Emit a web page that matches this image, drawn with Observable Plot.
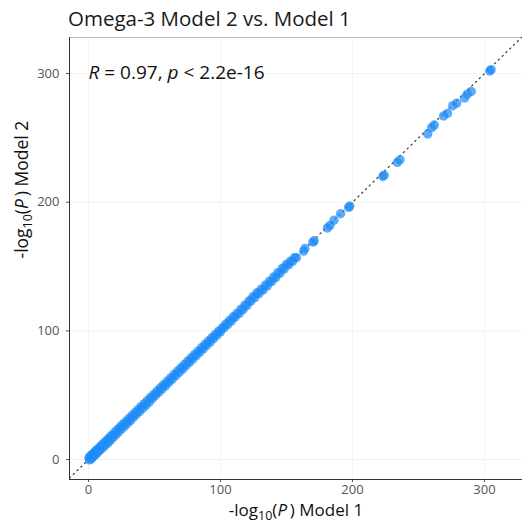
<!DOCTYPE html>
<html>
<head>
<meta charset="utf-8">
<script src="https://cdn.jsdelivr.net/npm/d3@7"></script>
<script src="https://cdn.jsdelivr.net/npm/@observablehq/plot@0.6"></script>
<style>
  html, body { margin: 0; padding: 0; background: white; }
  #title { font-family: "Open Sans", sans-serif; font-size: 20.5px; line-height: 20px;
           height: 30px; box-sizing: border-box; padding-top: 8px; padding-left: 68px; color: #1a1a1a; white-space: nowrap; }
  #chart svg { display: block; }
</style>
</head>
<body>
<div id="title">Omega-3 Model 2 vs. Model 1</div>
<div id="chart"></div>
<script>
// -log10(P) for Model 1 (x) and Model 2 (y)
const model1 = [
  0.3, 0.8, 1.2, 1.9, 2.5, 3.1, 3.8, 4.4, 5.0, 5.7, 6.3, 7.0, 7.8, 8.5, 9.3, 10.1, 11.0, 11.8, 12.7, 13.5,
  14.4, 15.3, 16.2, 17.1, 18.0, 19.0, 20.0, 21.0, 22.1, 23.0, 24.1, 25.2, 26.3, 27.4, 28.5, 29.6, 30.7, 31.8,
  32.9, 34.0, 35.2, 36.3, 37.5, 38.6, 39.8, 41.0, 42.2, 43.4, 44.6, 45.8, 47.0, 48.3, 49.5, 50.8, 52.0, 53.3,
  54.5, 55.8, 57.0, 58.3, 59.6, 60.9, 62.2, 63.5, 64.8, 66.1, 67.4, 68.7, 70.0, 71.3, 72.6, 73.9, 75.2, 76.5,
  77.8, 79.1, 80.4, 81.7, 83.0, 84.3, 85.6, 86.9, 88.2, 89.5, 90.8, 92.1, 93.4, 94.7, 96.0, 97.3, 98.6, 99.9,
  101.2, 102.6, 104.0, 105.4, 106.8, 108.2, 109.6, 111.0, 112.5, 114.0, 115.5, 117.0, 118.5, 120.0, 121.5,
  123.0, 124.5, 126.0, 127.6, 129.1, 130.7, 132.3, 133.9, 135.5, 137.1, 138.7, 140.3, 141.9, 143.5, 145.1,
  146.7, 148.3, 149.9, 151.5, 153.0, 154.5, 156.0, 157.5,
  163, 164, 170, 171, 181, 183, 186, 191, 197, 198, 223, 224, 234, 236, 257, 260, 262, 269, 272, 276, 279,
  285, 287, 290, 304, 305
];
const model2 = [
  1.4, -0.2, 2.6, 0.5, 3.7, 1.8, 4.9, 3.0, 6.3, 4.3, 7.6, 5.6, 9.0, 7.1, 10.5, 8.6, 12.3, 10.3, 13.8, 12.0,
  15.6, 13.6, 17.5, 15.5, 19.2, 17.6, 21.4, 19.5, 23.3, 21.7, 25.5, 23.9, 27.7, 26.0, 29.8, 28.2, 32.0, 30.3,
  34.2, 32.8, 36.5, 35.0, 38.8, 37.3, 41.1, 39.7, 43.5, 42.0, 45.8, 44.4, 48.3, 47.3, 50.7, 49.8, 53.3, 52.3,
  55.8, 54.8, 58.2, 57.3, 60.9, 59.9, 63.5, 62.4, 66.1, 65.1, 68.7, 67.7, 71.3, 70.3, 73.9, 72.9, 76.5, 75.5,
  79.1, 78.2, 81.7, 80.8, 84.3, 83.4, 86.9, 86.0, 89.5, 88.7, 92.1, 91.3, 94.7, 93.9, 97.3, 96.6, 99.8, 99.2,
  102.2, 102.3, 105.3, 104.9, 108.1, 107.6, 111.0, 110.5, 113.7, 113.3, 116.9, 116.4, 120.0, 119.5, 123.2,
  123.0, 126.5, 125.9, 129.6, 129.0, 132.2, 131.8, 135.5, 135.0, 138.7, 138.3, 142.0, 141.4, 145.3, 144.8,
  148.6, 148.2, 151.7, 151.3, 154.2, 154.0, 156.8, 156.9,
  162, 164, 169, 170, 180, 182, 186, 191, 196, 197, 220, 221, 231, 233, 253, 258, 260, 267, 269, 275, 277,
  281, 284, 286, 302, 303
];

const xTicks = [0, 100, 200, 300];
const yTicks = [0, 100, 200, 300];
const xDomain = [-14.4, 328.8];
const yDomain = [-15.5, 328];
const refLine = {intercept: 0, slope: 1};
const corLabel = {x: 0, y: 300, text: "R = 0.97, p < 2.2e-16"};
const xLabel = "-log10(P) Model 1";
const yLabel = "-log10(P) Model 2";

const points = model1.map((x, i) => ({x, y: model2[i]}));
const lineData = xDomain.map(x => ({x, y: refLine.intercept + refLine.slope * x}));

const chart = Plot.plot({
  width: 522,
  height: 495,
  marginTop: 7,
  marginBottom: 46,
  marginLeft: 69,
  marginRight: 0,
  style: {fontFamily: "Open Sans, sans-serif", fontSize: "13px", color: "#555", background: "white", overflow: "visible"},
  x: {domain: xDomain, ticks: xTicks, tickSize: 3, tickPadding: 2, label: null},
  y: {domain: yDomain, ticks: yTicks, tickSize: 3, tickPadding: 7, label: null},
  marks: [
    Plot.ruleX(xTicks, {stroke: "#f3f3f3"}),
    Plot.ruleY(yTicks, {stroke: "#f3f3f3"}),
    Plot.ruleY([yDomain[1]], {stroke: "#bdbdbd"}),
    Plot.line(lineData, {x: "x", y: "y", stroke: "#333", strokeWidth: 1.2, strokeDasharray: "1.3,4", clip: true}),
    Plot.dot(points, {x: "x", y: "y", r: 4.7, fill: "#1E8CF8", fillOpacity: 0.72, stroke: null}),
    Plot.ruleX([xDomain[0]], {stroke: "#333"}),
    Plot.ruleY([yDomain[0]], {stroke: "#333"}),
    Plot.text([corLabel], {x: "x", y: "y", text: "text", textAnchor: "start", fontSize: 19, dy: -1, fill: "#111"}),
    Plot.text([xLabel], {text: d => d, frameAnchor: "bottom", dy: 36.5, fontSize: 17, fill: "#111"}),
    Plot.text([yLabel], {text: d => d, frameAnchor: "left", dx: -47.5, rotate: -90, fontSize: 17.5, fill: "#111"})
  ]
});
document.getElementById("chart").appendChild(chart);

// rich text: subscripts and italics
function rich(content, parts) {
  const t = Array.from(chart.querySelectorAll("text")).find(e => e.textContent === content);
  if (!t) return;
  t.textContent = "";
  let shift = 0;
  for (const p of parts) {
    const s = document.createElementNS("http://www.w3.org/2000/svg", "tspan");
    s.textContent = p.t;
    if (p.italic) s.setAttribute("font-style", "italic");
    if (p.sub) { s.setAttribute("font-size", "12.5"); s.setAttribute("dy", 4); shift = 4; }
    else if (shift) { s.setAttribute("dy", -shift); shift = 0; }
    t.appendChild(s);
  }
}
rich(xLabel, [{t: "-log"}, {t: "10", sub: true}, {t: "("}, {t: "P", italic: true}, {t: "\u2009) Model 1"}]);
rich(yLabel, [{t: "-log"}, {t: "10", sub: true}, {t: "("}, {t: "P", italic: true}, {t: "\u2009) Model 2"}]);
rich(corLabel.text, [{t: "R", italic: true}, {t: " = 0.97, "}, {t: "p", italic: true}, {t: " < 2.2e-16"}]);
</script>
</body>
</html>
